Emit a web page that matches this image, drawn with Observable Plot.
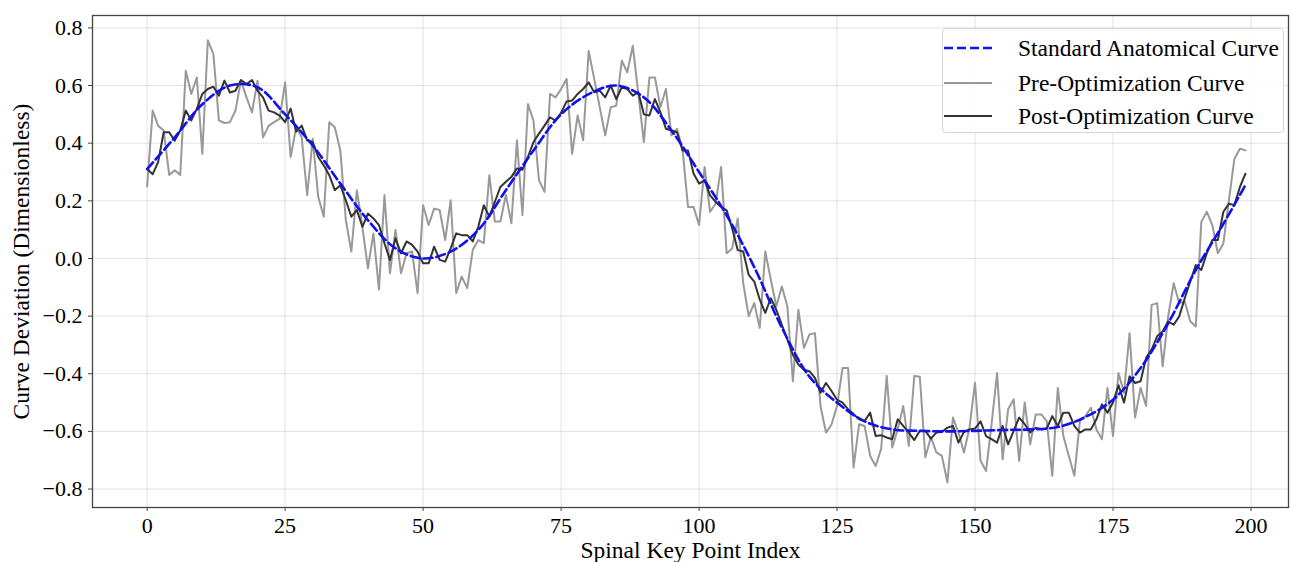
<!DOCTYPE html>
<html>
<head>
<meta charset="utf-8">
<script src="https://cdn.jsdelivr.net/npm/d3@7"></script>
<script src="https://cdn.jsdelivr.net/npm/@observablehq/plot@0.6"></script>
<style>
  html, body { margin: 0; padding: 0; background: #ffffff; }
  #wrap { position: relative; width: 1290px; height: 562px; overflow: hidden;
          font-family: "Liberation Serif", "Times New Roman", serif; }
  #wrap svg { position: absolute; left: 0; top: 0; }
  .legend { position: absolute; left: 942px; top: 28px; width: 342px; height: 105px;
            box-sizing: border-box; border: 1px solid #d6d6d6; border-radius: 4px;
            background: rgba(255,255,255,0.85); }
  .legend .sw { position: absolute; left: 10px; width: 50px; height: 10px; transform: translateY(-50%); }
  .legend .lb { position: absolute; left: 75px; font-size: 23.5px; line-height: 28px; color: #000;
                transform: translateY(-50%); white-space: nowrap; }
</style>
</head>
<body>
<div id="wrap"></div>
<script>
// ---- data ----
const xTicks = [0, 25, 50, 75, 100, 125, 150, 175, 200];
const yTicks = [-0.8, -0.6, -0.4, -0.2, 0, 0.2, 0.4, 0.6, 0.8];
const xLabel = "Spinal Key Point Index";
const yLabel = "Curve Deviation (Dimensionless)";

const seriesNames = ["Standard Anatomical Curve", "Pre-Optimization Curve", "Post-Optimization Curve"];

const standardIndex = [0, 5, 10, 15, 20, 25, 30, 35, 40, 45, 50, 55, 60, 65, 70, 75, 80, 85, 90, 95,
  100, 105, 110, 115, 120, 125, 130, 135, 140, 145, 150, 155, 160, 165, 170, 175, 180, 185, 190, 195, 199];
const standardValues = [0.31, 0.42, 0.535, 0.60, 0.594, 0.50, 0.392, 0.26, 0.133, 0.035, 0.0, 0.024, 0.099, 0.237, 0.375, 0.50, 0.57, 0.60, 0.559, 0.444,
  0.30, 0.15, -0.03, -0.24, -0.41, -0.50, -0.565, -0.593, -0.598, -0.60, -0.598, -0.595, -0.593, -0.585, -0.55, -0.49, -0.38, -0.225, -0.04, 0.12, 0.255];

const preValues = [
  0.25, 0.513, 0.46, 0.444, 0.29, 0.306, 0.29, 0.651, 0.571, 0.628,
  0.363, 0.757, 0.709, 0.479, 0.47, 0.473, 0.513, 0.617, 0.559, 0.507,
  0.617, 0.42, 0.46, 0.473, 0.484, 0.611, 0.352, 0.455, 0.421, 0.22,
  0.415, 0.214, 0.145, 0.473, 0.455, 0.375, 0.133, 0.024, 0.237, 0.11,
  -0.034, 0.087, -0.108, 0.22, -0.051, 0.099, -0.051, 0.018, 0.024, -0.12,
  0.185, 0.116, 0.173, 0.168, 0.064, 0.202, -0.12, -0.063, -0.103, 0.03,
  0.064, 0.053, 0.289, 0.128, 0.128, 0.22, 0.122, 0.41, 0.151, 0.536,
  0.478, 0.271, 0.231, 0.571, 0.559, 0.588, 0.623, 0.363, 0.496, 0.41,
  0.72, 0.623, 0.525, 0.427, 0.525, 0.53, 0.686, 0.646, 0.738, 0.571,
  0.404, 0.628, 0.628, 0.525, 0.588, 0.427, 0.45, 0.38, 0.179, 0.179,
  0.116, 0.317, 0.162, 0.19, 0.317, 0.018, 0.035, 0.139, -0.086, -0.2,
  -0.155, -0.241, 0.024, -0.074, -0.166, -0.097, -0.166, -0.426, -0.178, -0.31,
  -0.264, -0.259, -0.512, -0.604, -0.576, -0.512, -0.38, -0.38, -0.725, -0.575,
  -0.581, -0.685, -0.72, -0.66, -0.408, -0.656, -0.593, -0.512, -0.65, -0.408,
  -0.41, -0.69, -0.62, -0.673, -0.685, -0.777, -0.552, -0.604, -0.673, -0.587,
  -0.431, -0.702, -0.737, -0.575, -0.397, -0.697, -0.523, -0.489, -0.702, -0.5,
  -0.645, -0.541, -0.541, -0.564, -0.754, -0.449, -0.616, -0.685, -0.754, -0.564,
  -0.547, -0.518, -0.593, -0.627, -0.449, -0.616, -0.397, -0.466, -0.259, -0.552,
  -0.449, -0.512, -0.161, -0.155, -0.374, -0.201, -0.086, -0.155, -0.149, -0.218,
  -0.236, 0.127, 0.162, 0.116, 0.018, 0.052, 0.202, 0.346, 0.381, 0.375
];

const postValues = [
  0.311, 0.292, 0.335, 0.438, 0.438, 0.409, 0.444, 0.513, 0.479, 0.519,
  0.571, 0.588, 0.596, 0.565, 0.617, 0.576, 0.582, 0.619, 0.605, 0.619,
  0.582, 0.559, 0.513, 0.507, 0.496, 0.473, 0.52, 0.44, 0.461, 0.41,
  0.404, 0.352, 0.323, 0.289, 0.237, 0.254, 0.202, 0.145, 0.168, 0.11,
  0.156, 0.139, 0.116, 0.053, -0.005, 0.07, 0.018, 0.059, 0.047, 0.024,
  -0.017, -0.017, 0.041, -0.005, -0.011, 0.035, 0.087, 0.081, 0.081, 0.059,
  0.11, 0.185, 0.145, 0.196, 0.248, 0.266, 0.283, 0.312, 0.308, 0.352,
  0.404, 0.433, 0.461, 0.49, 0.478, 0.505, 0.545, 0.548, 0.571, 0.588,
  0.611, 0.577, 0.582, 0.559, 0.6, 0.553, 0.594, 0.588, 0.565, 0.577,
  0.5, 0.496, 0.553, 0.507, 0.45, 0.444, 0.438, 0.375, 0.375, 0.295,
  0.26, 0.271, 0.219, 0.196, 0.179, 0.167, 0.104, 0.029, 0.024, -0.057,
  -0.08, -0.143, -0.189, -0.138, -0.178, -0.23, -0.282, -0.334, -0.368, -0.386,
  -0.391, -0.414, -0.466, -0.432, -0.46, -0.49, -0.5, -0.523, -0.54, -0.558,
  -0.564, -0.535, -0.616, -0.613, -0.621, -0.627, -0.558, -0.581, -0.604, -0.63,
  -0.598, -0.598, -0.625, -0.604, -0.602, -0.587, -0.581, -0.639, -0.602, -0.593,
  -0.59, -0.565, -0.616, -0.627, -0.639, -0.581, -0.645, -0.598, -0.552, -0.575,
  -0.604, -0.587, -0.593, -0.59, -0.547, -0.581, -0.535, -0.535, -0.581, -0.604,
  -0.593, -0.593, -0.558, -0.506, -0.535, -0.5, -0.44, -0.5, -0.409, -0.432,
  -0.426, -0.345, -0.316, -0.27, -0.253, -0.218, -0.23, -0.201, -0.138, -0.08,
  -0.023, -0.04, 0.018, 0.064, 0.064, 0.162, 0.19, 0.185, 0.248, 0.294
];

// ---- build tables for the library ----
const std = standardIndex.map((x, k) => ({x, y: standardValues[k]}));
const pre = preValues.map((y, x) => ({x, y}));
const post = postValues.map((y, x) => ({x, y}));

const colors = {std: "#1010f0", pre: "#999999", post: "#333333"};
const fmtY = d => (d < 0 ? "\u2212" : "") + Math.abs(d).toFixed(1);

const chart = Plot.plot({
  width: 1290,
  height: 562,
  marginLeft: 92,
  marginRight: 2,
  marginTop: 15,
  marginBottom: 55,
  style: {fontFamily: '"Liberation Serif","Times New Roman",serif', fontSize: "22px", color: "#000", background: "transparent"},
  x: {domain: [-9.9, 206.8]},
  y: {domain: [-0.864, 0.843]},
  marks: [
    Plot.gridX(xTicks, {stroke: "#b0b0b0", strokeOpacity: 0.35, strokeWidth: 1}),
    Plot.gridY(yTicks, {stroke: "#b0b0b0", strokeOpacity: 0.35, strokeWidth: 1}),
    Plot.line(pre, {x: "x", y: "y", stroke: colors.pre, strokeWidth: 2}),
    Plot.line(post, {x: "x", y: "y", stroke: colors.post, strokeWidth: 2}),
    Plot.line(std, {x: "x", y: "y", stroke: colors.std, strokeWidth: 2.6, strokeDasharray: "9,4", curve: "catmull-rom"}),
    Plot.frame({stroke: "#444", strokeWidth: 1.3}),
    Plot.axisX(xTicks, {tickSize: 4, tickPadding: 6, stroke: "#444", label: null}),
    Plot.axisY(yTicks, {tickSize: 4, tickPadding: 6, stroke: "#444", tickFormat: fmtY, label: null}),
    Plot.text([xLabel], {text: d => d, frameAnchor: "bottom", dy: 43, textAnchor: "middle", lineAnchor: "middle", fontSize: 23.5, fill: "#000"}),
    Plot.text([yLabel], {text: d => d, frameAnchor: "left", dx: -71, rotate: -90, textAnchor: "middle", lineAnchor: "middle", fontSize: 23.5, fill: "#000"})
  ]
});

const wrap = document.getElementById("wrap");
wrap.appendChild(chart);

// legend (inside the axes, upper right)
const legend = document.createElement("div");
legend.className = "legend";
const rows = [
  {name: seriesNames[0], color: colors.std, width: 2.6, dash: "9,4", top: 19},
  {name: seriesNames[1], color: colors.pre, width: 2, dash: null, top: 54},
  {name: seriesNames[2], color: colors.post, width: 2, dash: null, top: 87}
];
for (const r of rows) {
  const ns = "http://www.w3.org/2000/svg";
  const sw = document.createElementNS(ns, "svg");
  sw.setAttribute("class", "sw");
  sw.setAttribute("width", "50");
  sw.setAttribute("height", "10");
  sw.style.top = r.top + "px";
  const ln = document.createElementNS(ns, "line");
  ln.setAttribute("x1", "1"); ln.setAttribute("x2", "49");
  ln.setAttribute("y1", "5"); ln.setAttribute("y2", "5");
  ln.setAttribute("stroke", r.color);
  ln.setAttribute("stroke-width", r.width);
  if (r.dash) ln.setAttribute("stroke-dasharray", r.dash);
  sw.appendChild(ln);
  legend.appendChild(sw);
  const lb = document.createElement("div");
  lb.className = "lb";
  lb.style.top = r.top + "px";
  lb.textContent = r.name;
  legend.appendChild(lb);
}
wrap.appendChild(legend);
</script>
</body>
</html>
